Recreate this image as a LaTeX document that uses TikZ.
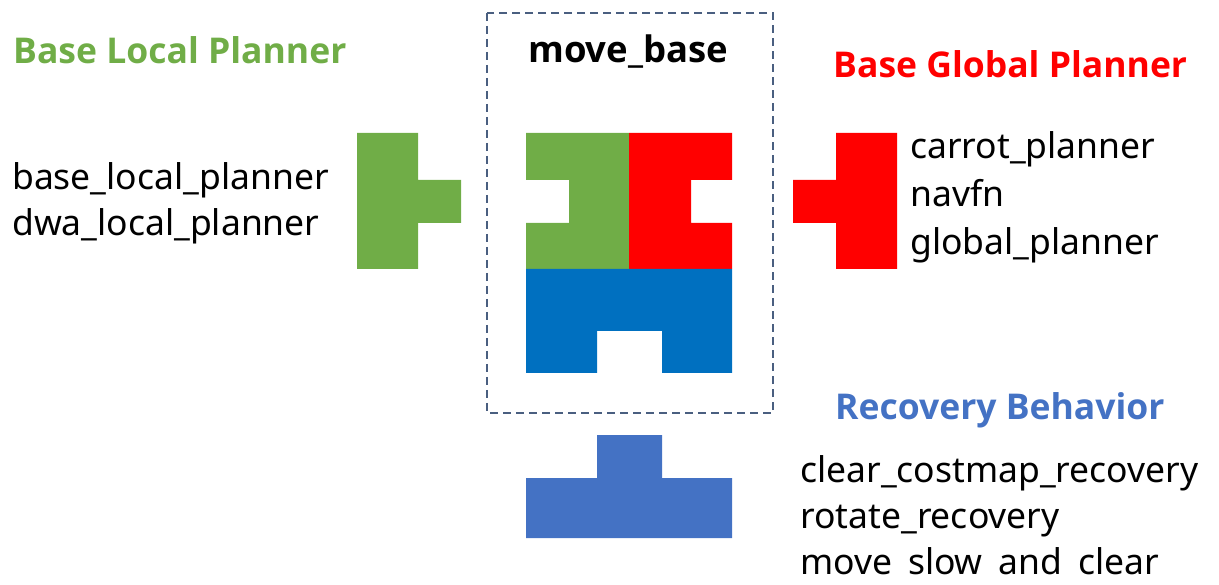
\documentclass[tikz,border=0pt]{standalone}
\usepackage{fontspec}
\setmainfont{Noto Sans}
\newfontfamily\titlefont{Open Sans}
\definecolor{pgreen}{HTML}{70AD47}
\definecolor{pred}{HTML}{FF0000}
\definecolor{pblue}{HTML}{0070C0}
\definecolor{rblue}{HTML}{4472C4}
\definecolor{dashc}{HTML}{4A5F80}
\begin{document}
\begin{tikzpicture}[x=1pt,y=-1pt,
  title/.style={inner sep=0pt,anchor=base west,font=\titlefont\fontsize{35.5}{42}\selectfont\bfseries},
  item/.style={inner sep=0pt,anchor=base west,font=\fontsize{35.5}{42}\selectfont}]
\useasboundingbox (0,0) rectangle (1219,585);
\clip (0,0) rectangle (1219,585);
% dashed frame
\draw[dashc,line width=1.5pt,dash pattern=on 8pt off 5pt] (487,13) rectangle (773,413);
\node[title,font=\titlefont\fontsize{36.5}{42}\selectfont\bfseries,text=black] (mb) at (528,63) {move\_base};
% center blocks
\fill[pgreen] (526,133) -- (629,133) -- (629,269) -- (526,269) -- (526,223) -- (569,223) -- (569,180) -- (526,180) -- cycle;
\fill[pred] (629,133) -- (732,133) -- (732,180) -- (691,180) -- (691,223) -- (732,223) -- (732,269) -- (629,269) -- cycle;
\fill[pblue] (526,269) -- (732,269) -- (732,373) -- (662,373) -- (662,331) -- (597,331) -- (597,373) -- (526,373) -- cycle;
% left green piece
\fill[pgreen] (357,133) -- (418,133) -- (418,180) -- (461,180) -- (461,223) -- (418,223) -- (418,269) -- (357,269) -- cycle;
% right red piece
\fill[pred] (836,133) -- (897,133) -- (897,269) -- (836,269) -- (836,223) -- (793,223) -- (793,180) -- (836,180) -- cycle;
% bottom blue piece
\fill[rblue] (597,435) -- (662,435) -- (662,478) -- (732,478) -- (732,538) -- (526,538) -- (526,478) -- (597,478) -- cycle;
% titles
\node[title,text=pgreen] (blp) at (13,64) {Base Local Planner};
\node[title,text=pred] (bgp) at (833,78) {Base Global Planner};
\node[title,text=rblue] (rb) at (835,420) {Recovery Behavior};
% items
\node[item] (l1) at (12,190) {base\_local\_planner};
\node[item] (l2) at (12,236) {dwa\_local\_planner};
\node[item] (g1) at (910,159) {carrot\_planner};
\node[item] (g2) at (910,207) {navfn};
\node[item] (g3) at (910,255) {global\_planner};
\node[item] (r1) at (800,482) {clear\_costmap\_recovery};
\node[item] (r2) at (800,528) {rotate\_recovery};
\begin{scope}
\clip (790,540) rectangle (1219,576);
\node[item] (r3) at (800,574) {move\_slow\_and\_clear};
\end{scope}
\end{tikzpicture}
\end{document}
